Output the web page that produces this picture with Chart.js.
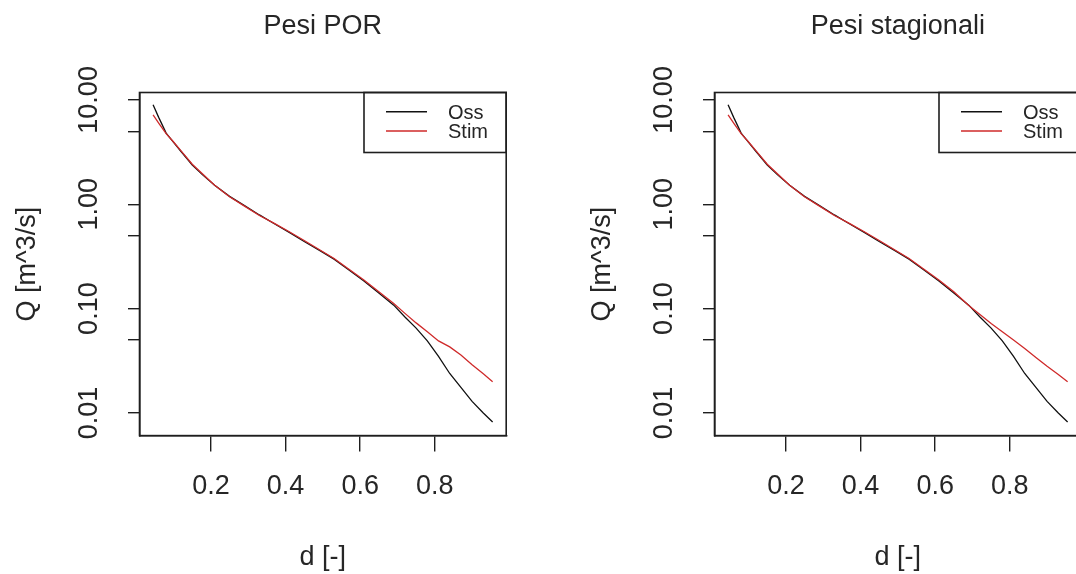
<!DOCTYPE html>
<html>
<head>
<meta charset="utf-8">
<script src="https://cdn.jsdelivr.net/npm/chart.js@4.4.0/dist/chart.umd.min.js"></script>
<style>
    html, body { margin: 0; padding: 0; background: #fff; overflow: hidden; }
    body { width: 1076px; height: 574px; position: relative; }
    .panel { position: absolute; top: 0; width: 575px; height: 574px; }
</style>
</head>
<body>
<div class="panel" style="left:0"><canvas id="chartPor" width="575" height="574"></canvas></div>
<div class="panel" style="left:575px"><canvas id="chartStag" width="575" height="574"></canvas></div>
<script>
// duration (fraction of time exceeded) and discharge values
const durations = [0.045, 0.06, 0.08, 0.10, 0.12, 0.15, 0.18, 0.21, 0.25, 0.29, 0.33, 0.37, 0.41, 0.45, 0.49,
    0.53, 0.57, 0.61, 0.65, 0.69, 0.72, 0.75, 0.78, 0.81, 0.84, 0.87, 0.90, 0.93, 0.955];
const qObserved = [9.0, 6.8, 4.8, 3.92, 3.2, 2.38, 1.88, 1.52, 1.19, 0.97, 0.79, 0.65, 0.537, 0.44, 0.363,
    0.298, 0.234, 0.184, 0.141, 0.108, 0.083, 0.065, 0.049, 0.0349, 0.0239, 0.0176, 0.0129, 0.0100, 0.0082];
const qSimPor = [7.2, 6.0, 4.75, 3.95, 3.25, 2.42, 1.92, 1.52, 1.18, 0.96, 0.78, 0.655, 0.545, 0.45, 0.368,
    0.302, 0.238, 0.188, 0.145, 0.112, 0.09, 0.073, 0.060, 0.049, 0.043, 0.0359, 0.029, 0.0237, 0.0199];
const qSimSeasonal = [7.2, 6.0, 4.75, 3.95, 3.25, 2.42, 1.92, 1.52, 1.18, 0.96, 0.78, 0.655, 0.545, 0.45, 0.368,
    0.302, 0.238, 0.188, 0.145, 0.107, 0.088, 0.072, 0.060, 0.050, 0.0415, 0.034, 0.028, 0.0234, 0.0199];

const seriesNames = ['Oss', 'Stim'];
const xTicks = [0.2, 0.4, 0.6, 0.8];
const yTicks = [0.01, 0.05, 0.1, 0.5, 1, 5, 10];
const yLabelled = [0.01, 0.1, 1, 10];

const INK = '#1e1e1e';
const TEXT = '#262626';
const RED = '#cf2a2a';
const FONT = '"Liberation Sans", Arial, sans-serif';

// plot frame plus the boxed legend in the top right corner
const framePlugin = {
    id: 'frame',
    afterDraw(chart) {
        const {ctx, chartArea: a} = chart;
        ctx.save();
        ctx.strokeStyle = INK;
        ctx.lineWidth = 1.6;
        ctx.strokeRect(a.left, a.top, a.right - a.left, a.bottom - a.top);

        const w = 142.2, h = 60;
        const lx = a.right - w;
        ctx.strokeRect(lx, a.top, w, h);
        ctx.font = '20px ' + FONT;
        ctx.textBaseline = 'middle';
        chart.data.datasets.forEach((ds, i) => {
            const y = a.top + 19.2 + i * 19.3;
            ctx.strokeStyle = ds.borderColor;
            ctx.lineWidth = 1.4;
            ctx.beginPath();
            ctx.moveTo(lx + 22, y);
            ctx.lineTo(lx + 63, y);
            ctx.stroke();
            ctx.fillStyle = TEXT;
            ctx.fillText(ds.label, lx + 84, y + 1.5);
        });
        ctx.restore();
    }
};

function points(values) {
    return durations.map((d, i) => ({x: d, y: values[i]}));
}

function makeChart(id, title, simulated) {
    const font = {family: FONT, size: 27};
    return new Chart(document.getElementById(id), {
        type: 'line',
        data: {
            datasets: [{
                label: seriesNames[0],
                data: points(qObserved),
                borderColor: '#111',
                borderWidth: 1.3,
                pointRadius: 0,
                tension: 0,
                order: 2
            }, {
                label: seriesNames[1],
                data: points(simulated),
                borderColor: RED,
                borderWidth: 1.3,
                pointRadius: 0,
                tension: 0,
                order: 1
            }]
        },
        options: {
            responsive: false,
            animation: false,
            layout: {padding: {left: 0, right: 68.8, top: 0, bottom: 0}},
            plugins: {
                legend: {display: false},
                tooltip: {enabled: false},
                title: {
                    display: true,
                    text: title,
                    fullSize: false,
                    color: TEXT,
                    font: {family: FONT, size: 27, weight: 'normal'},
                    padding: {top: 10.3, bottom: 49.8}
                }
            },
            scales: {
                x: {
                    type: 'linear',
                    min: 0.0086,
                    max: 0.9914,
                    afterBuildTicks: s => { s.ticks = xTicks.map(v => ({value: v})); },
                    afterFit: s => { s.height = 138.4; },
                    ticks: {
                        callback: v => v.toFixed(1),
                        font: font,
                        color: TEXT,
                        padding: 19,
                        autoSkip: false,
                        maxRotation: 0
                    },
                    grid: {drawOnChartArea: false, drawTicks: true, tickLength: 16, color: INK, lineWidth: 1.4},
                    border: {display: true, color: INK, width: 1.6},
                    title: {display: true, text: 'd [-]', font: font, color: TEXT, padding: {top: 0, bottom: 0}}
                },
                y: {
                    type: 'logarithmic',
                    min: 0.00607,
                    max: 11.77,
                    afterBuildTicks: s => { s.ticks = yTicks.map(v => ({value: v})); },
                    afterFit: s => { s.width = 139.5; },
                    ticks: {
                        callback: v => yLabelled.includes(v) ? v.toFixed(2) : '',
                        font: font,
                        color: TEXT,
                        minRotation: 90,
                        maxRotation: 90,
                        crossAlign: 'center',
                        padding: 5,
                        autoSkip: false
                    },
                    grid: {drawOnChartArea: false, drawTicks: true, tickLength: 11.5, color: INK, lineWidth: 1.4},
                    border: {display: true, color: INK, width: 1.6},
                    title: {display: true, text: 'Q [m^3/s]', font: font, color: TEXT, padding: {top: 11.3, bottom: 0}}
                }
            }
        },
        plugins: [framePlugin]
    });
}

makeChart('chartPor', 'Pesi POR', qSimPor);
makeChart('chartStag', 'Pesi stagionali', qSimSeasonal);
</script>
</body>
</html>
